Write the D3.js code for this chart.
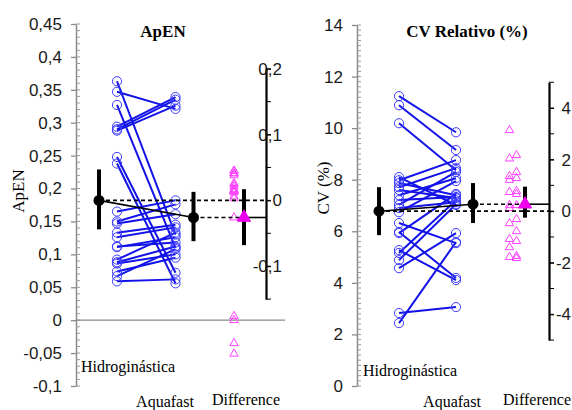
<!DOCTYPE html>
<html>
<head>
<meta charset="utf-8">
<script src="https://cdn.jsdelivr.net/npm/d3@7"></script>
<style>
  body { margin: 0; background: #fff; }
  svg { display: block; }
</style>
</head>
<body>
<svg id="chart" width="572" height="410"></svg>
<script>
// Conditions, in drawing order along each panel
const groups = ["Hidroginástica", "Aquafast", "Difference"];

// ApEN, one value per participant (paired by index)
const apenHidro = [0.363, 0.347, 0.327, 0.294, 0.290, 0.288, 0.248, 0.238, 0.165, 0.150, 0.147,
                   0.133, 0.126, 0.112, 0.111, 0.092, 0.088, 0.086, 0.074, 0.067, 0.059];
const apenAqua  = [0.130, 0.321, 0.110, 0.339, 0.335, 0.326, 0.072, 0.056, 0.182, 0.176, 0.161,
                   0.145, 0.141, 0.118, 0.126, 0.133, 0.112, 0.100, 0.095, 0.108, 0.062];
// group means with interval ends, and the mean difference [mean, low, high]
const apenMeans = [0.182, 0.156];
const apenLow   = [0.138, 0.120];
const apenHigh  = [0.229, 0.195];
const apenDiff  = [-0.026, -0.068, 0.017];
const apenTicks     = [-0.1, -0.05, 0, 0.05, 0.1, 0.15, 0.2, 0.25, 0.3, 0.35, 0.4, 0.45];
const apenDiffTicks = [-0.1, 0, 0.1, 0.2];

// CV relativo (%), one value per participant (paired by index)
const cvHidro = [11.24, 10.89, 10.19, 8.10, 7.98, 7.87, 7.71, 7.60, 7.40, 7.21, 7.02,
                 6.90, 6.74, 6.32, 5.97, 5.93, 5.27, 5.16, 4.88, 4.57, 2.83, 2.44];
const cvAqua  = [9.84, 9.15, 8.37, 7.02, 8.76, 7.40, 8.45, 7.29, 8.06, 7.33, 8.30,
                 7.13, 7.95, 5.54, 4.19, 7.45, 4.11, 7.20, 7.05, 5.93, 3.06, 5.58];
const cvMeans = [6.78, 7.05];
const cvLow   = [5.85, 6.32];
const cvHigh  = [7.71, 7.87];
const cvDiff  = [0.27, -0.25, 0.95];
const cvTicks     = [0, 2, 4, 6, 8, 10, 12, 14];
const cvDiffTicks = [-4, -2, 0, 2, 4];

const fmt = d => String(+d.toFixed(3)).replace(".", ",");

const panels = [
  {
    title: "ApEN", yLabel: "ApEN",
    hidro: apenHidro, aqua: apenAqua, means: apenMeans, low: apenLow, high: apenHigh, diff: apenDiff,
    ticks: apenTicks, minorStep: 0.01, diffTicks: apenDiffTicks, diffMinorStep: 0.05,
    domain: [-0.1, 0.45], range: [386, 24], diffDomain: [-0.15, 0.2],
    axisX: 76, xFirst: 117, xLast: 234, meanOff: [-18, 18], diffMeanOff: 10, diffAxisX: 266,
    diffLabelEnd: 16, swarm: 0, zeroLine: [76, 285],
    titleX: 163, yLabelX: 18, yLabelY: 191,
    catLabels: [[128, 372], [165, 407], [246, 405]]
  },
  {
    title: "CV Relativo (%)", yLabel: "CV (%)",
    hidro: cvHidro, aqua: cvAqua, means: cvMeans, low: cvLow, high: cvHigh, diff: cvDiff,
    ticks: cvTicks, minorStep: 0.2, diffTicks: cvDiffTicks, diffMinorStep: 1,
    domain: [0, 14], range: [386, 25], diffDomain: [-5, 5],
    axisX: 357, xFirst: 399, xLast: 513, meanOff: [-20, 17], diffMeanOff: 12, diffAxisX: 549,
    diffLabelEnd: 22, swarm: 3.5, zeroLine: null,
    titleX: 467, yLabelX: 323, yLabelY: 188,
    catLabels: [[410, 376], [452, 407], [537, 405]]
  }
];

const svg = d3.select("#chart");
const SANS = "'Liberation Sans', Arial, sans-serif";
const SERIF = "'Liberation Serif', 'Times New Roman', serif";
const blueLine = "#1212e8", blueDot = "#3c3cff", pink = "#ff40ff", magenta = "#ee00ee";

panels.forEach(p => {
  const g = svg.append("g");
  const y = d3.scaleLinear().domain(p.domain).range(p.range);
  const x = d3.scalePoint().domain(groups).range([p.xFirst, p.xLast]);
  const m1 = p.means[0];
  const yd = d3.scaleLinear().domain(p.diffDomain)
    .range([y(m1 + p.diffDomain[0]), y(m1 + p.diffDomain[1])]);

  // main value axis
  const ax = g.append("g").attr("transform", `translate(${p.axisX},0)`)
    .call(d3.axisLeft(y).tickValues(p.ticks).tickFormat(fmt).tickSize(5).tickSizeOuter(0).tickPadding(9));
  ax.select(".domain").attr("stroke", "#8a8a8a").attr("stroke-width", 1.5);
  ax.selectAll(".tick line").attr("stroke", "#8a8a8a").attr("stroke-width", 1.3);
  ax.selectAll(".tick text").attr("font-family", SANS).attr("font-size", 17).attr("fill", "#1a1a1a");
  const minor = d3.range(p.domain[0], p.domain[1] + p.minorStep / 2, p.minorStep);
  g.append("g").selectAll("line").data(minor).join("line")
    .attr("x1", p.axisX).attr("x2", p.axisX + 4)
    .attr("y1", d => y(d)).attr("y2", d => y(d))
    .attr("stroke", "#9a9a9a").attr("stroke-width", 1);

  if (p.zeroLine) {
    g.append("line").attr("x1", p.zeroLine[0]).attr("x2", p.zeroLine[1])
      .attr("y1", y(0)).attr("y2", y(0)).attr("stroke", "#8a8a8a").attr("stroke-width", 1.2);
  }

  // difference axis, zero at the first group's mean
  const dax = g.append("g").attr("transform", `translate(${p.diffAxisX},0)`)
    .call(d3.axisRight(yd).tickValues(p.diffTicks).tickFormat(fmt).tickSize(5).tickSizeOuter(0));
  dax.select(".domain").attr("stroke", "#000").attr("stroke-width", 2.2);
  dax.selectAll(".tick line").attr("stroke", "#000").attr("stroke-width", 1);
  dax.selectAll(".tick text").attr("font-family", SANS).attr("font-size", 17).attr("fill", "#1a1a1a")
    .attr("text-anchor", "end").attr("x", p.diffLabelEnd);
  const dMinor = d3.range(p.diffDomain[0], p.diffDomain[1] + p.diffMinorStep / 2, p.diffMinorStep);
  g.append("g").selectAll("line").data(dMinor).join("line")
    .attr("x1", p.diffAxisX).attr("x2", p.diffAxisX + 5)
    .attr("y1", d => yd(d)).attr("y2", d => yd(d))
    .attr("stroke", "#000").attr("stroke-width", 1);

  // paired lines and hollow circles
  const xh = x(groups[0]), xa = x(groups[1]), xdf = x(groups[2]);
  const pairs = p.hidro.map((h, i) => ({ h, a: p.aqua[i] }));
  g.append("g").selectAll("line").data(pairs).join("line")
    .attr("x1", xh).attr("x2", xa)
    .attr("y1", d => y(d.h)).attr("y2", d => y(d.a))
    .attr("stroke", blueLine).attr("stroke-width", 2);
  const circ = g.append("g").attr("fill", "none").attr("stroke", blueDot).attr("stroke-width", 1);
  circ.selectAll(".h").data(p.hidro).join("circle").attr("class", "h")
    .attr("cx", xh).attr("cy", d => y(d)).attr("r", 4.6);
  circ.selectAll(".a").data(p.aqua).join("circle").attr("class", "a")
    .attr("cx", xa).attr("cy", d => y(d)).attr("r", 4.6);

  // paired differences as hollow triangles
  const diffs = pairs.map(d => d.a - d.h).sort((a, b) => b - a);
  const tri = d3.symbol().type(d3.symbolTriangle).size(30);
  g.append("g").selectAll("path").data(diffs).join("path")
    .attr("d", tri)
    .attr("transform", (d, i) => `translate(${xdf + (p.swarm ? (i % 2 ? p.swarm : -p.swarm) : 0)},${yd(d)})`)
    .attr("fill", "none").attr("stroke", pink).attr("stroke-width", 1);

  // summary: means, intervals and reference lines
  const xm = [xh + p.meanOff[0], xa + p.meanOff[1]];
  const xdm = xdf + p.diffMeanOff;
  g.append("line").attr("x1", xm[0]).attr("x2", p.diffAxisX)
    .attr("y1", y(p.means[0])).attr("y2", y(p.means[0]))
    .attr("stroke", "#000").attr("stroke-width", 1.6).attr("stroke-dasharray", "4,3");
  g.append("line").attr("x1", xm[1]).attr("x2", xdm)
    .attr("y1", y(p.means[1])).attr("y2", y(p.means[1]))
    .attr("stroke", "#000").attr("stroke-width", 1.6).attr("stroke-dasharray", "4,3");
  g.append("line").attr("x1", xdm).attr("x2", p.diffAxisX)
    .attr("y1", yd(p.diff[0])).attr("y2", yd(p.diff[0]))
    .attr("stroke", "#000").attr("stroke-width", 1.6);
  g.append("line").attr("x1", xm[0]).attr("x2", xm[1])
    .attr("y1", y(p.means[0])).attr("y2", y(p.means[1]))
    .attr("stroke", "#000").attr("stroke-width", 1.6);

  p.means.forEach((m, i) => {
    g.append("line").attr("x1", xm[i]).attr("x2", xm[i])
      .attr("y1", y(p.low[i])).attr("y2", y(p.high[i]))
      .attr("stroke", "#000").attr("stroke-width", 4);
    g.append("circle").attr("cx", xm[i]).attr("cy", y(m)).attr("r", 5.5).attr("fill", "#000");
  });
  g.append("line").attr("x1", xdm).attr("x2", xdm)
    .attr("y1", yd(p.diff[1])).attr("y2", yd(p.diff[2]))
    .attr("stroke", "#000").attr("stroke-width", 4);
  g.append("path").attr("d", d3.symbol().type(d3.symbolTriangle).size(75))
    .attr("transform", `translate(${xdm},${yd(p.diff[0])})`)
    .attr("fill", magenta).attr("stroke", magenta).attr("stroke-width", 1);

  // texts
  g.append("text").attr("x", p.titleX).attr("y", 37).attr("text-anchor", "middle")
    .attr("font-family", SERIF).attr("font-weight", "bold").attr("font-size", 17).text(p.title);
  g.append("text").attr("transform", `translate(${p.yLabelX},${p.yLabelY}) rotate(-90)`)
    .attr("text-anchor", "middle").attr("dy", "0.35em")
    .attr("font-family", SERIF).attr("font-size", 17).text(p.yLabel);
  groups.forEach((name, i) => {
    g.append("text").attr("x", p.catLabels[i][0]).attr("y", p.catLabels[i][1])
      .attr("text-anchor", "middle").attr("font-family", SERIF).attr("font-size", 16).text(name);
  });
});
</script>
</body>
</html>
